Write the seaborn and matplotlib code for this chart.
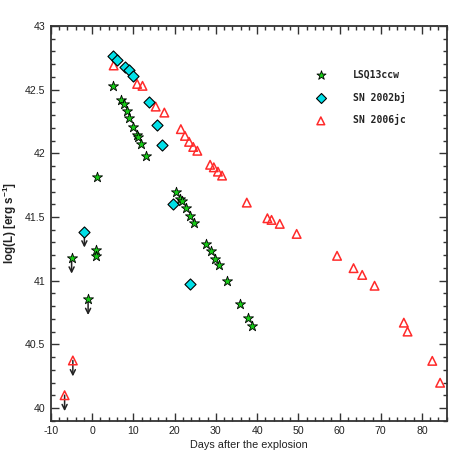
import matplotlib
matplotlib.use("Agg")
import matplotlib.pyplot as plt
import seaborn as sns
import pandas as pd
from matplotlib.ticker import MultipleLocator

# ---------------- data ----------------
lsq_x = [5.0, 6.95, 7.75, 8.4, 8.96, 10.0, 10.9, 11.07, 11.8, 12.93, 1.2, 20.3, 21.3,
         21.7, 22.7, 23.8, 24.8, 1.0, 1.0, 27.7, 28.7, 29.7, 30.7, 32.7, 35.8, 37.8, 38.7]
lsq_y = [42.53, 42.42, 42.385, 42.33, 42.275, 42.21, 42.145, 42.13, 42.07, 41.98, 41.815,
         41.70, 41.64, 41.625, 41.574, 41.51, 41.45, 41.24, 41.19, 41.29, 41.23, 41.17,
         41.12, 41.0, 40.82, 40.71, 40.64]
lsq_lim_x = [-5.0, -1.0]
lsq_lim_y = [41.18, 40.855]

bj_x = [5.0, 6.05, 7.9, 8.95, 9.9, 13.8, 15.8, 16.9, 19.7, 23.8]
bj_y = [42.765, 42.73, 42.68, 42.655, 42.61, 42.40, 42.22, 42.066, 41.60, 40.975]
bj_lim_x = [-1.9]
bj_lim_y = [41.385]

jc_x = [5.2, 10.9, 12.2, 15.4, 17.5, 21.5, 22.5, 23.5, 24.5, 25.5, 28.6, 29.5, 30.5,
        31.5, 37.5, 42.5, 43.5, 45.5, 49.6, 59.4, 63.4, 65.5, 68.5, 75.6, 76.5, 82.5, 84.4]
jc_y = [42.69, 42.545, 42.53, 42.367, 42.32, 42.19, 42.137, 42.09, 42.05, 42.02, 41.91,
        41.89, 41.856, 41.825, 41.613, 41.49, 41.477, 41.446, 41.367, 41.195, 41.098,
        41.045, 40.96, 40.67, 40.60, 40.37, 40.198]
jc_lim_x = [-6.7, -4.7]
jc_lim_y = [40.10, 40.373]

series_names = ["LSQ13ccw", "SN 2002bj", "SN 2006jc"]
x_ticks = [-10, 0, 10, 20, 30, 40, 50, 60, 70, 80]
y_ticks = [40, 40.5, 41, 41.5, 42, 42.5, 43]
x_label = "Days after the explosion"
y_label = r"log(L) [erg s$^{-1}$]"

# ---------------- style ----------------
sns.set_style("ticks")
plt.rcParams["font.family"] = ["Liberation Sans", "DejaVu Sans"]
plt.rcParams["mathtext.fontset"] = "custom"
plt.rcParams["mathtext.rm"] = "Liberation Sans:bold"
plt.rcParams["mathtext.bf"] = "Liberation Sans:bold"

GREEN = "#16cc16"
CYAN = "#00e0e8"
RED = "#ff2a2a"
AX = "#333333"

fig = plt.figure(figsize=(4.71, 4.71), dpi=100)
ax = fig.add_axes([51 / 471, 1 - 420.7 / 471, (446.7 - 51) / 471, (420.7 - 26) / 471])

lsq_df = pd.DataFrame({"x": lsq_x + lsq_lim_x, "y": lsq_y + lsq_lim_y})
bj_df = pd.DataFrame({"x": bj_x + bj_lim_x, "y": bj_y + bj_lim_y})
jc_df = pd.DataFrame({"x": jc_x + jc_lim_x, "y": jc_y + jc_lim_y})

# upper-limit arrows
for lx, ly in zip(lsq_lim_x + bj_lim_x + jc_lim_x, lsq_lim_y + bj_lim_y + jc_lim_y):
    ax.annotate("", xy=(lx, ly - 0.125), xytext=(lx, ly),
                arrowprops=dict(arrowstyle="->", color="#222222", lw=1.1,
                                shrinkA=0, shrinkB=0, mutation_scale=9),
                zorder=2)

sns.scatterplot(data=jc_df, x="x", y="y", ax=ax, marker="^", s=38,
                facecolor="none", edgecolor=RED, linewidth=1.1,
                label=series_names[2], zorder=3)
sns.scatterplot(data=bj_df, x="x", y="y", ax=ax, marker="D", s=32,
                color=CYAN, edgecolor="black", linewidth=0.8,
                label=series_names[1], zorder=4)
sns.scatterplot(data=lsq_df, x="x", y="y", ax=ax, marker="*", s=58,
                color=GREEN, edgecolor="black", linewidth=0.6,
                label=series_names[0], zorder=5)

ax.set_xlim(-10, 86)
ax.set_ylim(39.9, 43)
ax.set_xticks(x_ticks)
ax.set_yticks(y_ticks)
ax.set_xticklabels([f"{t:g}" for t in x_ticks])
ax.set_yticklabels([f"{t:g}" for t in y_ticks])
ax.xaxis.set_minor_locator(MultipleLocator(2))
ax.yaxis.set_minor_locator(MultipleLocator(0.1))
ax.tick_params(which="both", direction="in", top=True, right=True,
               colors=AX, labelcolor="#222222", labelsize=7.6, width=1.0)
ax.tick_params(which="major", length=5.5, pad=4)
ax.tick_params(which="minor", length=2.8)
for sp in ax.spines.values():
    sp.set_color(AX)
    sp.set_linewidth(1.3)

ax.set_xlabel(x_label, fontsize=7.8, color="#222222", labelpad=3)
ax.set_ylabel(y_label, fontsize=8.4, color="#222222", fontweight="bold", labelpad=4)

handles, labels = ax.get_legend_handles_labels()
order = [labels.index(n) for n in series_names]
leg = ax.legend([handles[i] for i in order], [labels[i] for i in order],
                loc="upper left", bbox_to_anchor=(315 / 471, 1 - 70 / 471),
                bbox_transform=fig.transFigure, frameon=False,
                prop={"family": "DejaVu Sans Mono", "weight": "bold", "size": 7.0},
                handlelength=1.2, handletextpad=2.7, labelspacing=1.2,
                borderpad=0, borderaxespad=0, markerscale=0.9)
for t in leg.get_texts():
    t.set_color("#222222")

fig.savefig("out.png", dpi=100)
